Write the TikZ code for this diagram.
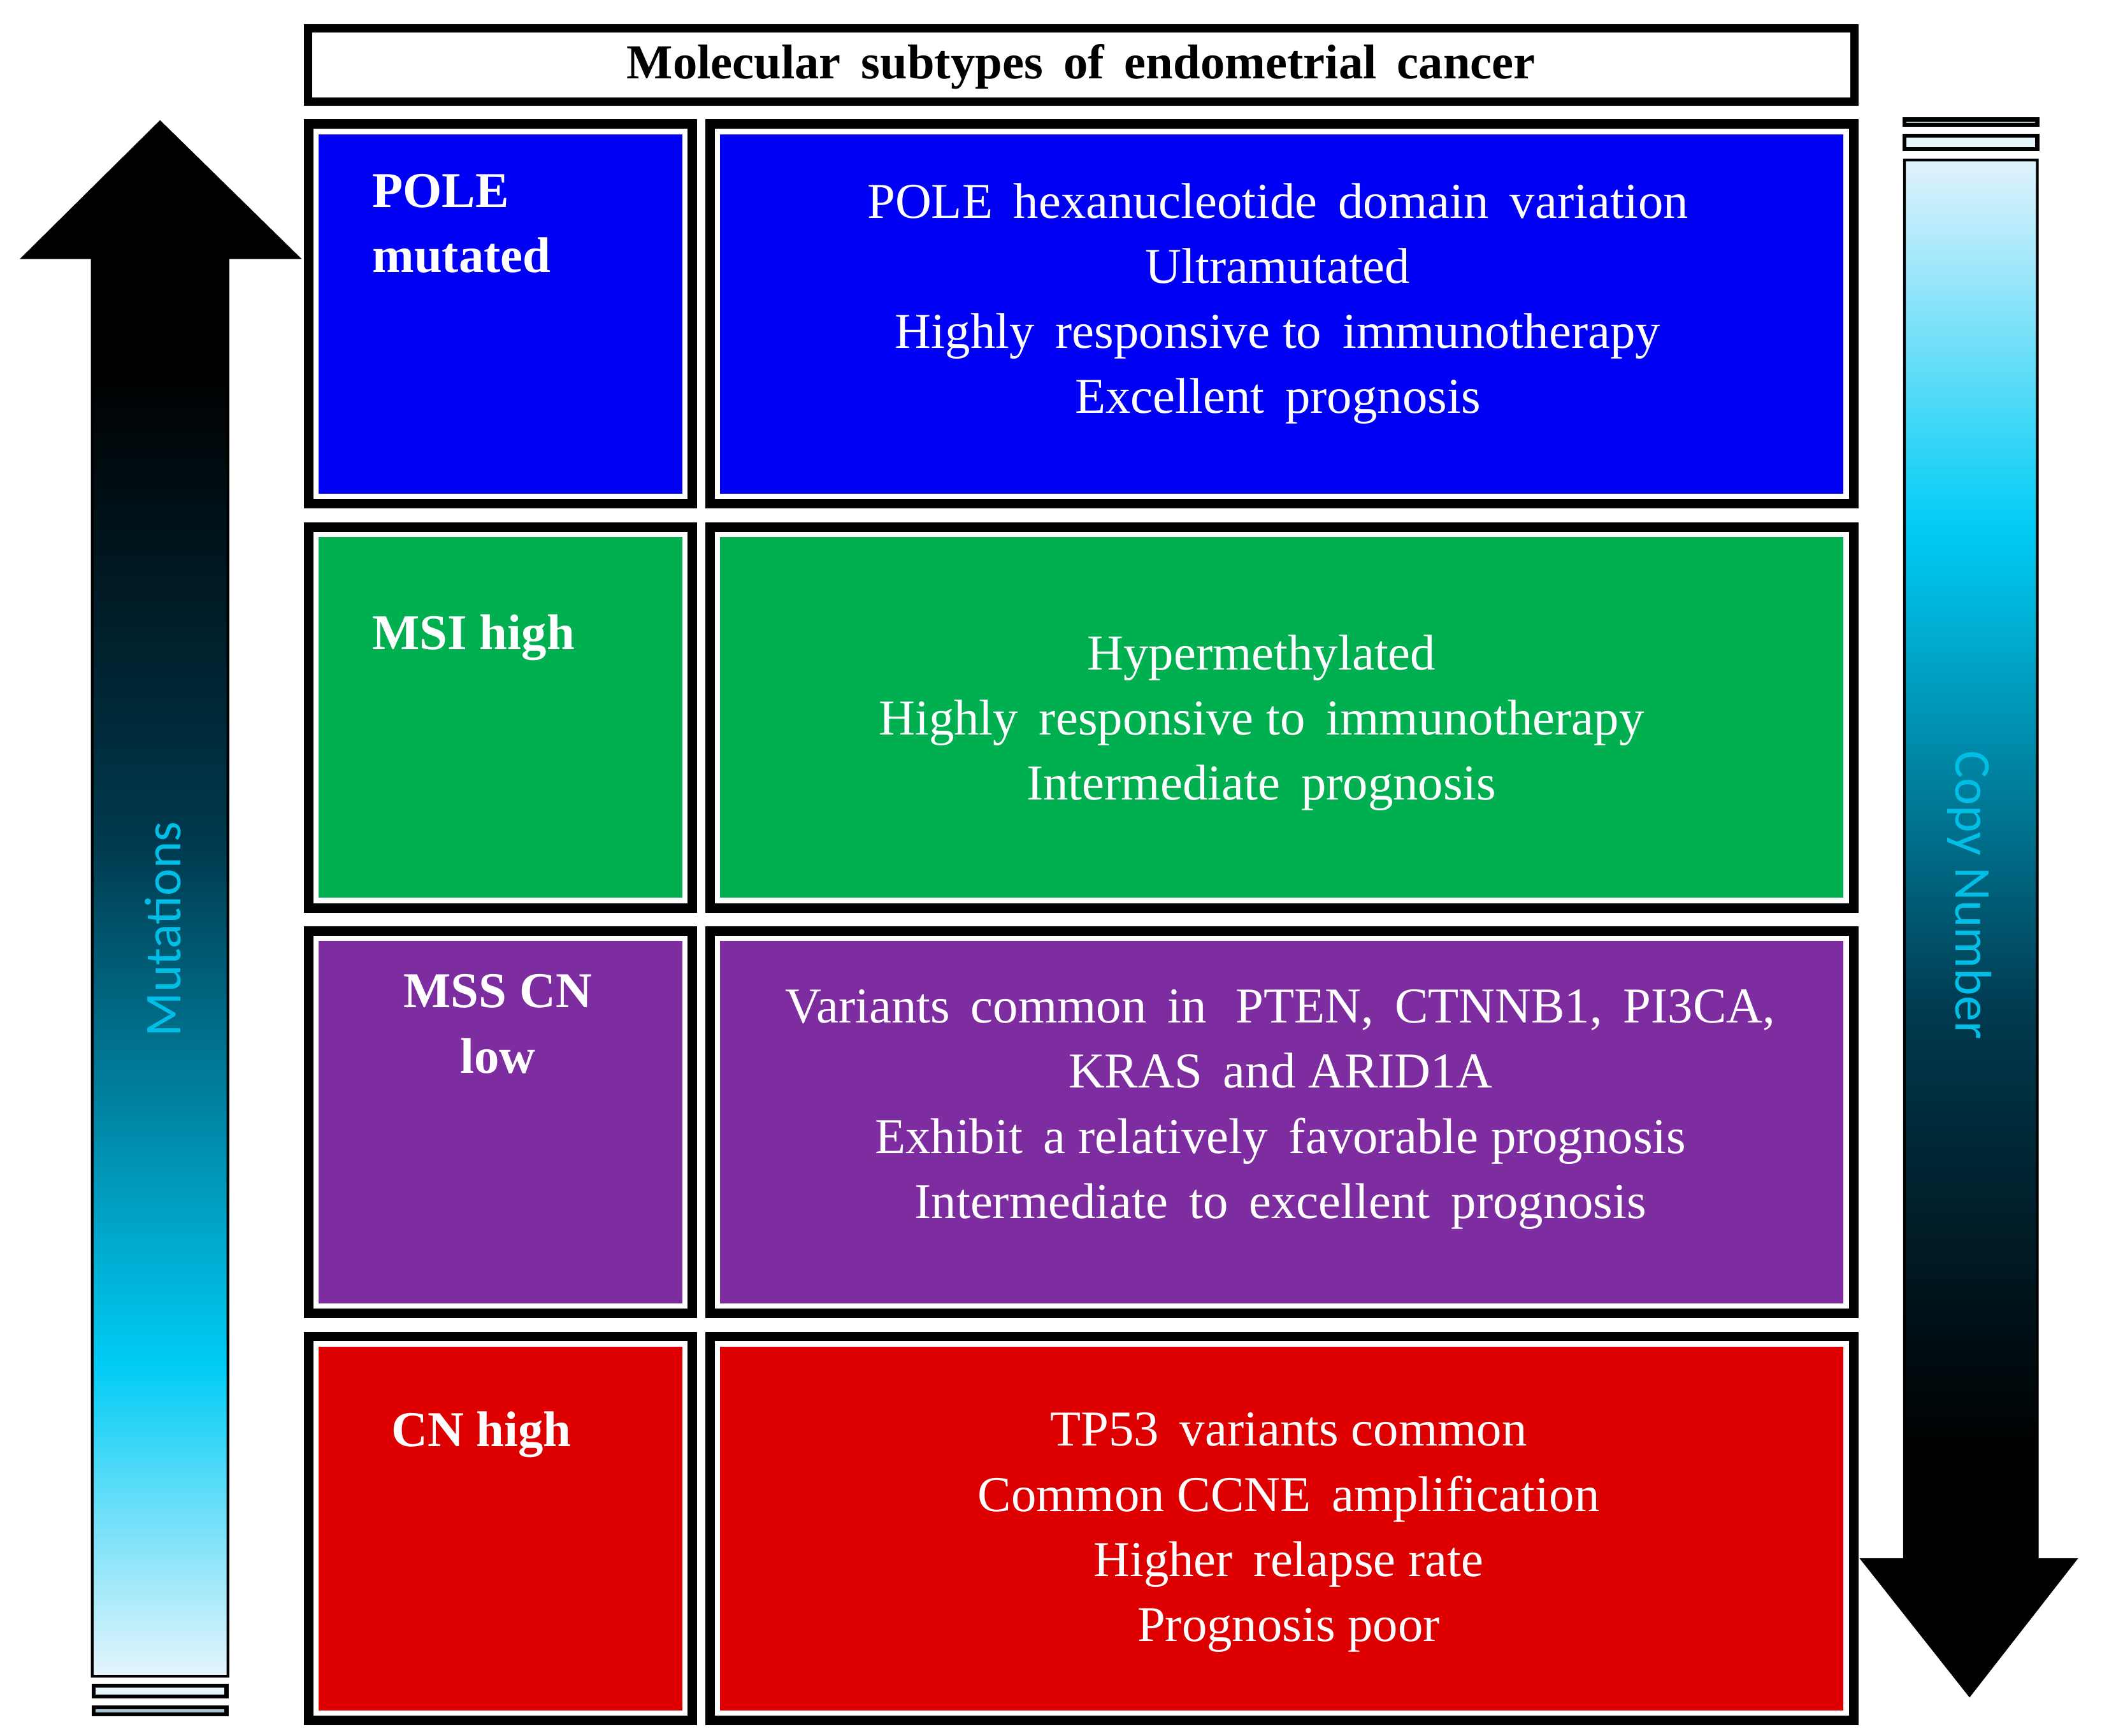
\documentclass[tikz,border=0pt]{standalone}
\usepackage{fontspec}
\setmainfont{Liberation Serif}
\newfontfamily\sansf{Carlito}
\usetikzlibrary{calc}
\definecolor{cblue}{RGB}{0,0,245}
\definecolor{cgreen}{RGB}{0,176,80}
\definecolor{cpurple}{RGB}{125,45,160}
\definecolor{cred}{RGB}{222,0,0}
\definecolor{lblcyan}{RGB}{0,190,230}
\definecolor{stlight}{RGB}{230,244,252}
\definecolor{stgrey}{RGB}{170,200,210}
\pgfdeclareverticalshading{upshade}{100bp}{rgb(0bp)=(0.9,0.96,0.99); rgb(25bp)=(0.9,0.96,0.99); rgb(35bp)=(0,0.8,0.96); rgb(52bp)=(0,0.22,0.3); rgb(67bp)=(0,0,0); rgb(100bp)=(0,0,0)}
\pgfdeclareverticalshading{downshade}{100bp}{rgb(0bp)=(0,0,0); rgb(33bp)=(0,0,0); rgb(47bp)=(0,0.22,0.3); rgb(63bp)=(0,0.8,0.96); rgb(75bp)=(0.88,0.95,0.99); rgb(100bp)=(0.88,0.95,0.99)}
\tikzset{
  body/.style={text=white,align=center,font=\fontsize{37}{48}\selectfont},
  lbl/.style={text=white,font=\bfseries\fontsize{37}{48}\selectfont},
  stripe/.style={draw=black,line width=3pt,fill=#1},
}
\newcommand{\mycell}[5]{%
  \fill[black] (#1,#2) rectangle (#3,#4);
  \fill[white] ($(#1,#2)+(7,7)$) rectangle ($(#3,#4)+(-7,-7)$);
  \fill[#5] ($(#1,#2)+(11,11)$) rectangle ($(#3,#4)+(-11,-11)$);
}
\begin{document}
\begin{tikzpicture}[x=1pt,y=-1pt]
\useasboundingbox[fill=white] (0,0) rectangle (1560,1280);
% title
\draw[line width=6pt] (227,21) rectangle (1367,75);
\node[font=\bfseries\fontsize{36}{40}\selectfont] (title) at (797,49) {Molecular\, subtypes\, of\, endometrial\, cancer};
% cells
\mycell{224}{88}{514}{375}{cblue}
\mycell{520}{88}{1370}{375}{cblue}
\mycell{224}{385}{514}{673}{cgreen}
\mycell{520}{385}{1370}{673}{cgreen}
\mycell{224}{683}{514}{972}{cpurple}
\mycell{520}{683}{1370}{972}{cpurple}
\mycell{224}{982}{514}{1272}{cred}
\mycell{520}{982}{1370}{1272}{cred}
% labels
\node[lbl,anchor=west,align=left] (l1) at (271,165) {POLE\\mutated};
\node[lbl,anchor=west] (l2) at (271,470) {MSI high};
\node[lbl,align=center] (l3) at (367,755) {MSS CN\\low};
\node[lbl,anchor=west] (l4) at (285,1058) {CN high};
% bodies
\node[body] (b1) at (942,224) {POLE\, hexanucleotide\, domain\, variation\\Ultramutated\\Highly\, responsive to\, immunotherapy\\Excellent\, prognosis};
\node[body] (b2) at (930,533) {Hypermethylated\\Highly\, responsive to\, immunotherapy\\Intermediate\, prognosis};
\node[body] (b3) at (944,818) {Variants\, common\, in\,\, PTEN,\, CTNNB1,\, PI3CA,\\KRAS\, and ARID1A\\Exhibit\, a relatively\, favorable prognosis\\Intermediate\, to\, excellent\, prognosis};
\node[body] (b4) at (950,1130) {TP53\, variants common\\Common CCNE\, amplification\\Higher\, relapse rate\\Prognosis poor};
% left arrow
\path[draw=black,line width=2pt,shading=upshade] (118,90) -- (220,190) -- (168,190) -- (168,1236) -- (68,1236) -- (68,190) -- (17,190) -- cycle;
\path[stripe=stlight] (69,1243) rectangle (167,1251);
\path[stripe=stgrey] (69,1259) rectangle (167,1264);
\node[rotate=90,text=lblcyan,font=\sansf\fontsize{38}{40}\selectfont] (mut) at (120,685) {Mutations};
% right arrow
\path[stripe=stgrey] (1404,88) rectangle (1502,92);
\path[stripe=stlight] (1404,100) rectangle (1502,110);
\path[draw=black,line width=2pt,shading=downshade] (1404,118) -- (1502,118) -- (1502,1150) -- (1530,1150) -- (1452,1250) -- (1373,1150) -- (1404,1150) -- cycle;
\node[rotate=-90,text=lblcyan,font=\sansf\fontsize{38}{40}\selectfont] (cn) at (1452,660) {Copy Number};
\end{tikzpicture}
\end{document}
